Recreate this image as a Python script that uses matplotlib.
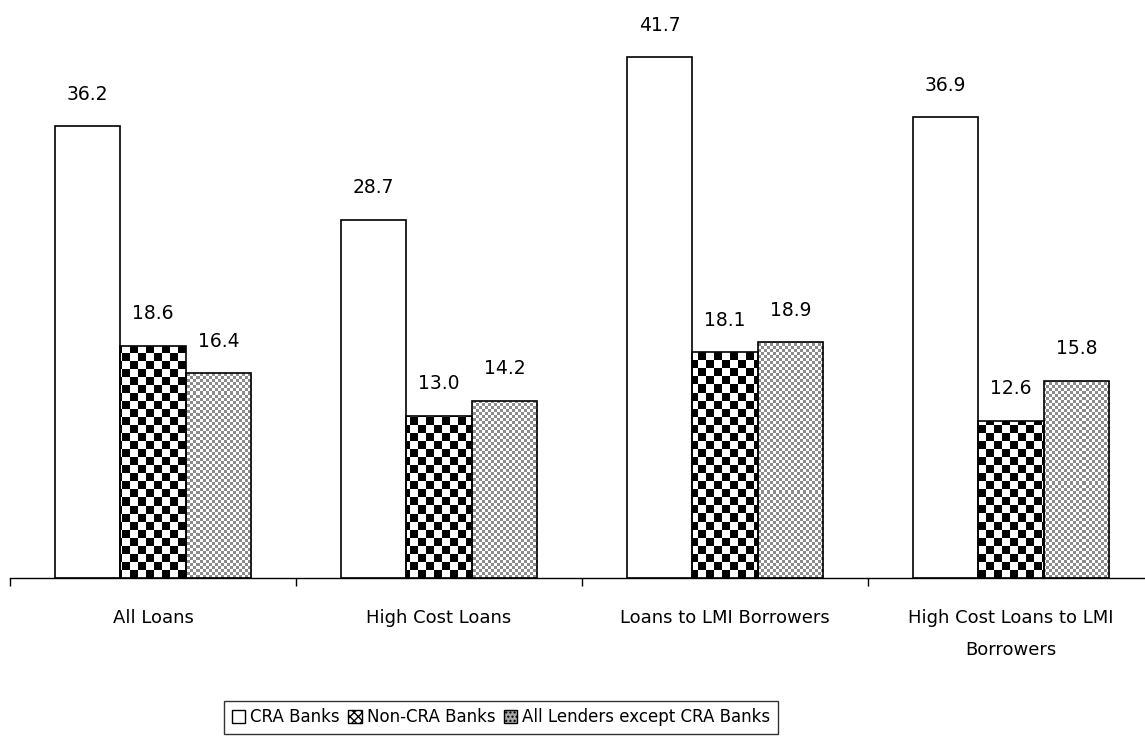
import matplotlib
matplotlib.use("Agg")
import matplotlib.pyplot as plt
import numpy as np
from matplotlib.patches import Patch

categories = ["All Loans", "High Cost Loans", "Loans to LMI Borrowers",
              "High Cost Loans to LMI\nBorrowers"]
cra_banks = [36.2, 28.7, 41.7, 36.9]
non_cra_banks = [18.6, 13.0, 18.1, 12.6]
all_except_cra = [16.4, 14.2, 18.9, 15.8]
series_names = ["CRA Banks", "Non-CRA Banks", "All Lenders except CRA Banks"]

plt.rcParams['font.family'] = ['DejaVu Sans']

fig = plt.figure(figsize=(11.45, 7.47), dpi=100)
ax = fig.add_axes([10 / 1145, 169 / 747, 1144 / 1145, 562 / 747])

x = np.arange(len(categories))
w = 0.229
ymax = 45


def checker(ny, nx, dark, light):
    # checkerboard texture, values in 0..1 for a gray colormap
    ii, jj = np.indices((ny, nx))
    return np.where((ii + jj) % 2 == 0, dark, light)


def texture_bars(bars, img):
    for b in bars:
        im = ax.imshow(img, cmap='gray', vmin=0, vmax=1, interpolation='nearest',
                       extent=[-0.5, 3.5, 0, ymax], aspect='auto', zorder=1)
        im.set_clip_path(b)


b1 = ax.bar(x - w, cra_banks, w, facecolor='white', edgecolor='black', lw=1.2, zorder=2)
b2 = ax.bar(x, non_cra_banks, w, facecolor='none', edgecolor='black', lw=1.2, zorder=2)
b3 = ax.bar(x + w, all_except_cra, w, facecolor='none', edgecolor='black', lw=1.2, zorder=2)

# coarse black/white checks and a fine gray stipple
texture_bars(b2, checker(70, 143, 0.0, 1.0))
texture_bars(b3, checker(187, 381, 0.55, 1.0))

for bars, vals in [(b1, cra_banks), (b2, non_cra_banks), (b3, all_except_cra)]:
    for b, v in zip(bars, vals):
        ax.annotate(f"{v:.1f}", (b.get_x() + b.get_width() / 2, v),
                    xytext=(0, 16), textcoords='offset points',
                    ha='center', va='bottom', fontsize=13.5)

ax.set_xlim(-0.5, 3.5)
ax.set_ylim(0, ymax)
ax.set_yticks([])
ax.set_xticks(x)
ax.set_xticklabels(categories, fontsize=13, linespacing=2.0)
ax.tick_params(axis='x', which='major', length=0, pad=22)
ax.set_xticks(np.arange(-0.5, 4, 1), minor=True)
ax.tick_params(axis='x', which='minor', length=6, width=1)
for s in ['top', 'right', 'left']:
    ax.spines[s].set_visible(False)
ax.spines['bottom'].set_linewidth(1)

handles = [Patch(facecolor='white', edgecolor='black'),
           Patch(facecolor='white', edgecolor='black', hatch='xxxx'),
           Patch(facecolor='#aaaaaa', edgecolor='black', hatch='....')]
leg = fig.legend(handles, series_names, loc='center', ncol=3,
                 bbox_to_anchor=(501 / 1145, 30 / 747), fontsize=12,
                 frameon=True, fancybox=False, edgecolor='black',
                 handlelength=0.8, handleheight=0.8, handletextpad=0.3,
                 columnspacing=0.5, borderpad=0.45)
leg.get_frame().set_linewidth(1)

fig.savefig("out.png", dpi=100)
